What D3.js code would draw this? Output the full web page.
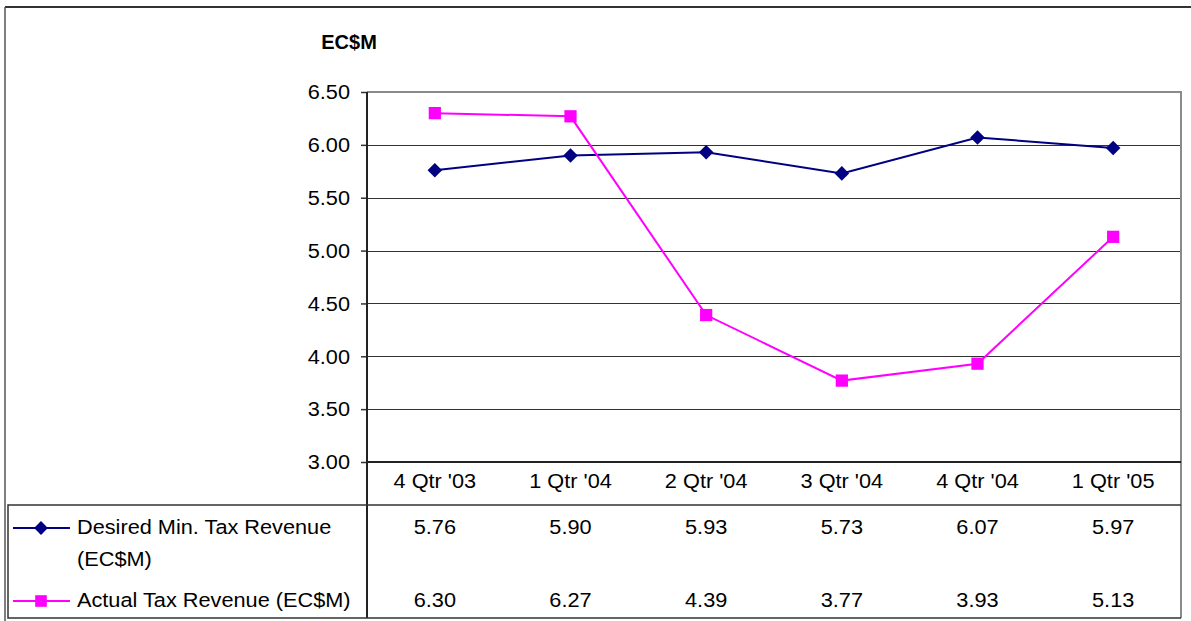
<!DOCTYPE html>
<html>
<head>
<meta charset="utf-8">
<script src="https://cdn.jsdelivr.net/npm/d3@7"></script>
<style>
  html, body { margin: 0; padding: 0; background: #fff; }
  svg { display: block; }
  text { font-family: "Liberation Sans", Arial, sans-serif; fill: #000; }
</style>
</head>
<body>
<svg id="chart" width="1191" height="621"></svg>
<script>
// Quarterly tax revenue, EC$ millions
const categories = ["4 Qtr '03", "1 Qtr '04", "2 Qtr '04", "3 Qtr '04", "4 Qtr '04", "1 Qtr '05"];
const desiredMin = [5.76, 5.90, 5.93, 5.73, 6.07, 5.97];
const actual = [6.30, 6.27, 4.39, 3.77, 3.93, 5.13];
const yTicks = [3.0, 3.5, 4.0, 4.5, 5.0, 5.5, 6.0, 6.5];
const seriesNames = [["Desired Min. Tax Revenue", "(EC$M)"], ["Actual Tax Revenue (EC$M)"]];
const unitLabel = "EC$M";

const svg = d3.select("#chart");
const plot = { left: 367, right: 1181, top: 92, bottom: 462 };
const table = { left: 8, top: 505, bottom: 618 };
const fontSize = 20.5;
const stretch = 1.06;

const x = d3.scaleBand().domain(categories).range([plot.left, plot.right]);
const y = d3.scaleLinear().domain([3, 6.5]).range([plot.bottom, plot.top]);

const series = [
  { values: desiredMin, color: "#000080", shape: d3.symbolDiamond2, size: 135, name: seriesNames[0], row: 527 },
  { values: actual, color: "#FF00FF", shape: d3.symbolSquare, size: 150, name: seriesNames[1], row: 600 }
];

// stretched text helper
function label(g, tx, ty, str, anchor, opts = {}) {
  const t = g.append("text")
    .attr("transform", `translate(${tx},${ty}) scale(${opts.stretch || stretch},1)`)
    .attr("text-anchor", anchor)
    .attr("dominant-baseline", "central")
    .style("font-size", (opts.size || fontSize) + "px")
    .text(str);
  if (opts.bold) t.style("font-weight", "bold");
  return t;
}

// outer frame
svg.append("line").attr("x1", 5).attr("x2", 1191).attr("y1", 7).attr("y2", 7)
  .attr("stroke", "#333").attr("stroke-width", 2);
svg.append("line").attr("x1", 5).attr("x2", 5).attr("y1", 7).attr("y2", 621)
  .attr("stroke", "#555").attr("stroke-width", 1.5);

// horizontal gridlines
svg.append("g").selectAll("line")
  .data(yTicks.filter(v => v > 3 && v < 6.5))
  .join("line")
  .attr("x1", plot.left).attr("x2", plot.right)
  .attr("y1", d => Math.round(y(d)) + 0.5).attr("y2", d => Math.round(y(d)) + 0.5)
  .attr("stroke", "#333").attr("stroke-width", 1);

// plot border (top, right) in grey
svg.append("path")
  .attr("d", `M${plot.left},${plot.top}H${plot.right}V${table.bottom}`)
  .attr("fill", "none").attr("stroke", "#8a8a8a").attr("stroke-width", 2);

// y axis
const yAxis = svg.append("g").attr("transform", `translate(${plot.left},0)`)
  .call(d3.axisLeft(y).tickValues(yTicks).tickFormat(d3.format(".2f")).tickSize(6).tickPadding(11));
yAxis.select(".domain").remove();
yAxis.selectAll(".tick line").attr("stroke", "#333").attr("stroke-width", 1.5);
yAxis.selectAll(".tick text").remove();
yTicks.forEach(v => label(svg, 350, y(v), d3.format(".2f")(v), "end"));

// axis line and table structure
svg.append("line").attr("x1", plot.left).attr("x2", plot.left).attr("y1", plot.top).attr("y2", table.bottom)
  .attr("stroke", "#222").attr("stroke-width", 2);
svg.append("line").attr("x1", plot.left).attr("x2", plot.right).attr("y1", plot.bottom).attr("y2", plot.bottom)
  .attr("stroke", "#222").attr("stroke-width", 2);
svg.append("path")
  .attr("d", `M${plot.right},${table.top}H${table.left}V${table.bottom}H${plot.right}`)
  .attr("fill", "none").attr("stroke", "#333").attr("stroke-width", 1.5);

// unit title
label(svg, 349, 42, unitLabel, "middle", { bold: true, size: 20, stretch: 1.0 });

// category labels
categories.forEach(c => label(svg, x(c) + x.bandwidth() / 2, 481, c, "middle"));

// series lines and markers
const line = d3.line().x((d, i) => x(categories[i]) + x.bandwidth() / 2).y(d => y(d));
series.forEach(s => {
  svg.append("path").datum(s.values)
    .attr("d", line).attr("fill", "none")
    .attr("stroke", s.color).attr("stroke-width", 2);
  svg.append("g").selectAll("path")
    .data(s.values).join("path")
    .attr("transform", (d, i) => `translate(${x(categories[i]) + x.bandwidth() / 2},${y(d)})`)
    .attr("d", d3.symbol().type(s.shape).size(s.size))
    .attr("fill", s.color);

  // data table row
  s.values.forEach((v, i) => label(svg, x(categories[i]) + x.bandwidth() / 2, s.row, d3.format(".2f")(v), "middle"));

  // legend key
  svg.append("line").attr("x1", 13).attr("x2", 70).attr("y1", s.row + 1).attr("y2", s.row + 1)
    .attr("stroke", s.color).attr("stroke-width", 2);
  svg.append("path").attr("transform", `translate(41,${s.row + 1})`)
    .attr("d", d3.symbol().type(s.shape).size(s.size * 0.9)).attr("fill", s.color);
  s.name.forEach((ln, k) => label(svg, 77, s.row + k * 32, ln, "start"));
});
</script>
</body>
</html>
